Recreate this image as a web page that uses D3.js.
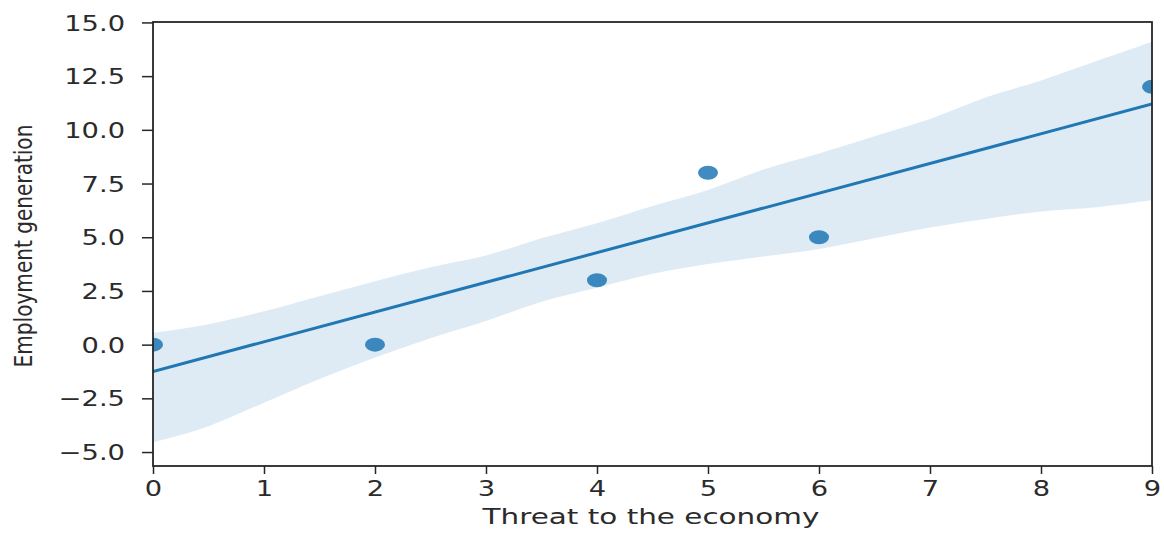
<!DOCTYPE html>
<html>
<head>
<meta charset="utf-8">
<script src="https://cdn.jsdelivr.net/npm/d3@7"></script>
<style>
  body { margin: 0; background: #fff; }
  text { font-family: "DejaVu Sans", sans-serif; fill: #2b2b2b; }
</style>
</head>
<body>
<svg id="chart" width="1164" height="533"></svg>
<script>
// observed points
var pointX = [0, 2, 4, 5, 6, 9];
var pointY = [0, 0, 3, 8, 5, 12];

// fitted line, read at the ends of the axis
var fitX = [0, 9];
var fitY = [-1.25, 11.2];

// confidence band
var bandX = [0, 0.5, 1, 1.5, 2, 2.5, 3, 3.5, 4, 4.5, 5, 5.5, 6, 6.5, 7, 7.5, 8, 8.5, 9];
var bandUpper = [0.55, 0.95, 1.55, 2.25, 2.95, 3.6, 4.15, 4.95, 5.65, 6.45, 7.2, 8.15, 8.9, 9.7, 10.5, 11.5, 12.3, 13.2, 14.1];
var bandLower = [-4.55, -3.8, -2.7, -1.6, -0.6, 0.3, 1.1, 2.0, 2.65, 3.3, 3.75, 4.1, 4.45, 4.95, 5.45, 5.85, 6.2, 6.4, 6.72];

var xTicks = [0, 1, 2, 3, 4, 5, 6, 7, 8, 9];
var yTicks = [-5, -2.5, 0, 2.5, 5, 7.5, 10, 12.5, 15];

const LEFT = 153, RIGHT = 1152, TOP = 22, BOTTOM = 466;
const TEXT_SX = 1.3;
const BLUE = "#1f77b4";

var svg = d3.select("#chart");
var x = d3.scaleLinear().domain([0, 9]).range([LEFT, RIGHT]);
var y = d3.scaleLinear().domain([-5.65, 15.02]).range([BOTTOM, TOP]);

svg.append("clipPath").attr("id", "plot")
  .append("rect")
  .attr("x", LEFT).attr("y", TOP)
  .attr("width", RIGHT - LEFT).attr("height", BOTTOM - TOP);

var plot = svg.append("g").attr("clip-path", "url(#plot)");

var band = d3.area()
  .x((d, i) => x(bandX[i]))
  .y0((d, i) => y(bandLower[i]))
  .y1((d, i) => y(bandUpper[i]))
  .curve(d3.curveMonotoneX);

plot.append("path")
  .datum(bandX)
  .attr("d", band)
  .attr("fill", BLUE)
  .attr("fill-opacity", 0.15);

plot.selectAll("ellipse")
  .data(pointX)
  .enter()
  .append("ellipse")
  .attr("cx", (d) => x(d))
  .attr("cy", (d, i) => y(pointY[i]))
  .attr("rx", 10)
  .attr("ry", 7)
  .attr("fill", BLUE)
  .attr("fill-opacity", 0.85);

plot.append("path")
  .datum(fitX)
  .attr("d", d3.line().x((d) => x(d)).y((d, i) => y(fitY[i])))
  .attr("stroke", BLUE)
  .attr("stroke-width", 3)
  .attr("fill", "none");

// axes
var xAxis = svg.append("g")
  .attr("transform", `translate(0, ${BOTTOM})`)
  .call(d3.axisBottom(x).tickValues(xTicks).tickSize(8).tickFormat(d3.format("d")));

xAxis.selectAll("text")
  .attr("y", 0).attr("dy", 0)
  .attr("transform", `translate(0, 30) scale(${TEXT_SX}, 1)`)
  .style("font-size", "21px");

var yAxis = svg.append("g")
  .attr("transform", `translate(${LEFT}, 0)`)
  .call(d3.axisLeft(y).tickValues(yTicks).tickSize(11).tickFormat(d3.format(".1f")));

yAxis.selectAll("text")
  .attr("x", 0).attr("dy", "0.36em")
  .attr("transform", `translate(-28, 0) scale(${TEXT_SX}, 1)`)
  .style("font-size", "21px");

svg.selectAll(".domain").remove();
svg.selectAll(".tick line").attr("stroke", "#262626").attr("stroke-width", 1.5);

// frame
svg.append("rect")
  .attr("x", LEFT).attr("y", TOP)
  .attr("width", RIGHT - LEFT).attr("height", BOTTOM - TOP)
  .attr("fill", "none")
  .attr("stroke", "#262626")
  .attr("stroke-width", 1.8);

// labels, squeezed/stretched to the size seen in the picture
function fitLabel(sel, target) {
  var len = sel.node().getComputedTextLength();
  return target / len;
}

var xl = svg.append("text")
  .attr("text-anchor", "middle")
  .style("font-size", "21px")
  .text("Threat to the economy");
xl.attr("transform", `translate(651, 524) scale(${fitLabel(xl, 337)}, 1)`);

var yl = svg.append("text")
  .attr("text-anchor", "middle")
  .style("font-size", "25px")
  .text("Employment generation");
yl.attr("transform", `translate(32, 246) rotate(-90) scale(${fitLabel(yl, 243)}, 1)`);
</script>
</body>
</html>
